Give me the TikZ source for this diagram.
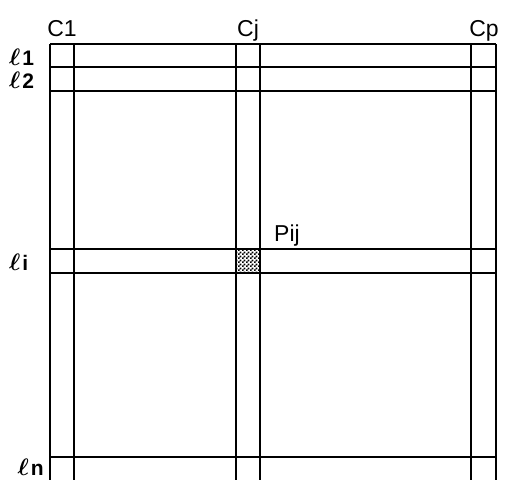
\documentclass[tikz,border=0pt]{standalone}
\usepackage{fontspec}
\setmainfont{Liberation Sans}
\usetikzlibrary{patterns}
\pgfdeclarepatternformonly{checker}{\pgfqpoint{0pt}{0pt}}{\pgfqpoint{3.6pt}{3.6pt}}{\pgfqpoint{3.6pt}{3.6pt}}{%
  \pgfpathrectangle{\pgfqpoint{0pt}{0pt}}{\pgfqpoint{1.8pt}{1.8pt}}%
  \pgfpathrectangle{\pgfqpoint{1.8pt}{1.8pt}}{\pgfqpoint{1.8pt}{1.8pt}}%
  \pgfusepath{fill}}
\newcommand{\rowell}{\scalebox{1.15}{\boldmath$\ell$}\kern2pt}
\tikzset{
  gridline/.style={line width=1.2pt, black},
  collabel/.style={font=\fontsize{23}{23}\selectfont, anchor=base, inner sep=0pt},
  rowlabel/.style={font=\fontsize{21}{21}\selectfont\bfseries, inner sep=0pt},
}
\begin{document}
\begin{tikzpicture}[x=1pt,y=-1pt]
\useasboundingbox (0,0) rectangle (510,480);
% shaded cell Pij
\fill[pattern=checker] (236,249) rectangle (260,273);
% vertical lines
\foreach \x in {50,74,236,260,471,496}
  \draw[gridline] (\x,44) -- (\x,480);
% horizontal lines
\foreach \y in {44,67,91,249,273,457}
  \draw[gridline] (50,\y) -- (496,\y);
% column labels
\node[collabel] (c1) at (62,36) {C1};
\node[collabel] (cj) at (248,36) {Cj};
\node[collabel] (cp) at (484,36) {Cp};
% row labels
\node[rowlabel, anchor=base west] (l1) at (9,65) {\rowell1};
\node[rowlabel, anchor=base west] (l2) at (9,88) {\rowell2};
\node[rowlabel, anchor=base west] (li) at (9,270) {\rowell i};
\node[rowlabel, anchor=base east] (ln) at (44,475) {\rowell n};
% cell label
\node[collabel, anchor=base west] (pij) at (274,241) {Pij};
\end{tikzpicture}
\end{document}
